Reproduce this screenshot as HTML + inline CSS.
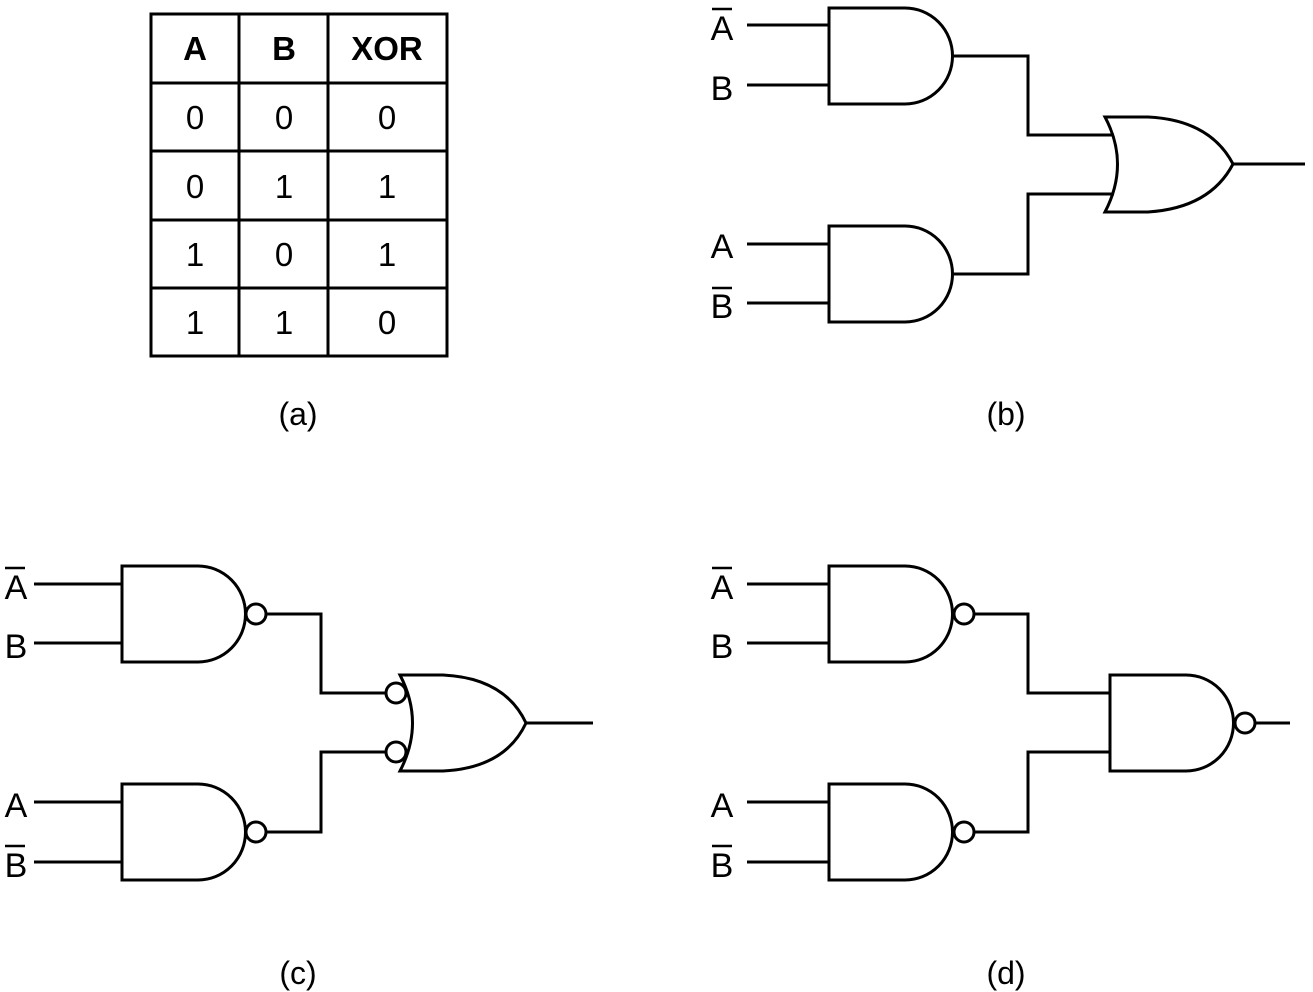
<!DOCTYPE html>
<html><head><meta charset="utf-8"><style>html,body{margin:0;padding:0;background:#fff}svg{display:block}</style></head>
<body>
<svg width="1313" height="992" viewBox="0 0 1313 992" xmlns="http://www.w3.org/2000/svg">
<defs>
<path id="and" d="M0,0 H76 A47.5,48 0 0 1 76,96 H0 Z"/>
</defs>
<g fill="none" stroke="#000" stroke-width="3">
<rect x="151" y="14" width="296" height="342"/>
<line x1="239" y1="14" x2="239" y2="356"/><line x1="328" y1="14" x2="328" y2="356"/>
<line x1="151" y1="83" x2="447" y2="83"/><line x1="151" y1="151" x2="447" y2="151"/>
<line x1="151" y1="220" x2="447" y2="220"/><line x1="151" y1="288" x2="447" y2="288"/>

<use href="#and" x="829" y="8"/><use href="#and" x="829" y="226"/>
<path d="M747,25H829M747,85H829M747,244H829M747,303H829"/>
<path d="M951,56H1028V135H1114M951,274H1028V194H1114"/>
<path d="M1105,117 H1148 Q1210,120 1233,164 Q1210,208 1148,212 H1105 Q1130,164 1105,117 Z"/>
<path d="M1233,164H1305"/>

<use href="#and" x="122" y="566"/><use href="#and" x="122" y="784"/>
<circle cx="256" cy="614" r="10"/><circle cx="256" cy="832" r="10"/>
<path d="M34,584H122M34,643H122M34,802H122M34,862H122"/>
<path d="M266,614H321V693H386M266,832H321V752H386"/>
<path d="M400,675 H443 Q505,678 526,723 Q505,768 443,771 H400 Q425,723 400,675 Z"/>
<circle cx="396" cy="693" r="10" fill="#fff"/><circle cx="396" cy="752" r="10" fill="#fff"/>
<path d="M526,723H593"/>

<use href="#and" x="829" y="566"/><use href="#and" x="829" y="784"/>
<circle cx="964" cy="614" r="10"/><circle cx="964" cy="832" r="10"/>
<path d="M747,584H829M747,643H829M747,802H829M747,862H829"/>
<path d="M974,614H1028V693H1110M974,832H1028V752H1110"/>
<use href="#and" x="1110" y="675"/>
<circle cx="1245" cy="723" r="10"/>
<path d="M1255,723H1290"/>

<path d="M712,9H732M712,288H732M5,568H25M5,846H25M712,568H732M712,846H732" stroke-width="2.5"/>
</g>
<g font-family="Liberation Sans, sans-serif" fill="#000" text-anchor="middle">
<g font-size="33" font-weight="bold">
<text x="195" y="60">A</text><text x="284" y="60">B</text><text x="387" y="60">XOR</text>
</g>
<g font-size="33">
<text x="195" y="129">0</text><text x="284" y="129">0</text><text x="387" y="129">0</text>
<text x="195" y="198">0</text><text x="284" y="198">1</text><text x="387" y="198">1</text>
<text x="195" y="266">1</text><text x="284" y="266">0</text><text x="387" y="266">1</text>
<text x="195" y="334">1</text><text x="284" y="334">1</text><text x="387" y="334">0</text>
</g>
<g font-size="34">
<text x="722" y="40">A</text><text x="722" y="100">B</text><text x="722" y="258">A</text><text x="722" y="318">B</text>
<text x="16" y="599">A</text><text x="16" y="658">B</text><text x="16" y="817">A</text><text x="16" y="877">B</text>
<text x="722" y="599">A</text><text x="722" y="658">B</text><text x="722" y="817">A</text><text x="722" y="877">B</text>
</g>
<g font-size="32">
<text x="298" y="425">(a)</text><text x="1006" y="425">(b)</text>
<text x="298" y="984">(c)</text><text x="1006" y="984">(d)</text>
</g>
</g>
</svg>
</body></html>
